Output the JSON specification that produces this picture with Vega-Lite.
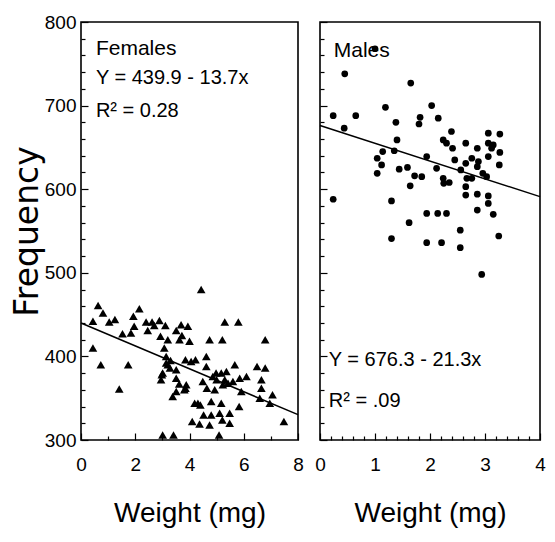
{
  "$schema": "https://vega.github.io/schema/vega-lite/v6.json",
  "background": "white",
  "padding": {"left": 10, "top": 12, "right": 10, "bottom": 5},
  "spacing": 22,
  "bounds": "flush",
  "config": {
    "font": "Liberation Sans",
    "view": {"stroke": "black", "strokeWidth": 1.6},
    "axis": {
      "domain": false,
      "grid": false,
      "tickColor": "black",
      "tickWidth": 1.2,
      "tickCount": 100,
      "labelColor": "black",
      "titleColor": "black",
      "labelFont": "Liberation Sans",
      "labelFontSize": 19,
      "titleFont": "Liberation Sans",
      "titleFontSize": 28,
      "titleFontWeight": "normal",
      "labelFlush": false,
      "labelOverlap": false,
      "labelBound": false
    }
  },
  "hconcat": [
    {
      "width": 217,
      "height": 418,
      "data": {"values": [
        {"w":0.63,"f":461},{"w":0.81,"f":452},{"w":0.44,"f":442},{"w":1.04,"f":441},{"w":1.25,"f":444},{"w":2.15,"f":457},{"w":1.93,"f":448},{"w":1.96,"f":436},{"w":1.84,"f":428},{"w":1.53,"f":427},
        {"w":0.44,"f":410},{"w":0.73,"f":390},{"w":1.74,"f":390},{"w":1.41,"f":361},{"w":2.4,"f":441},{"w":2.46,"f":431},{"w":2.62,"f":441},{"w":2.89,"f":443},{"w":2.7,"f":437},{"w":3.11,"f":437},
        {"w":2.93,"f":424},{"w":3.2,"f":420},{"w":3.07,"f":410},{"w":3.14,"f":400},{"w":3.2,"f":390},{"w":3.28,"f":386},{"w":3.01,"f":380},{"w":2.95,"f":372},{"w":3.51,"f":431},{"w":3.69,"f":438},
        {"w":3.94,"f":436},{"w":3.63,"f":420},{"w":4.0,"f":418},{"w":3.51,"f":384},{"w":3.51,"f":374},{"w":3.38,"f":352},{"w":3.51,"f":358},{"w":3.85,"f":362},{"w":3.85,"f":396},{"w":4.06,"f":394},
        {"w":4.22,"f":396},{"w":4.62,"f":400},{"w":4.62,"f":388},{"w":4.74,"f":420},{"w":5.21,"f":420},{"w":5.3,"f":441},{"w":5.8,"f":441},{"w":6.79,"f":420},{"w":5.67,"f":390},{"w":6.49,"f":388},
        {"w":6.79,"f":386},{"w":6.65,"f":372},{"w":6.65,"f":362},{"w":6.59,"f":350},{"w":7.06,"f":354},{"w":6.96,"f":344},{"w":7.48,"f":322},{"w":4.86,"f":376},{"w":4.98,"f":380},{"w":5.17,"f":380},
        {"w":5.36,"f":382},{"w":5.23,"f":366},{"w":5.42,"f":368},{"w":5.6,"f":370},{"w":5.85,"f":374},{"w":6.1,"f":376},{"w":5.91,"f":358},{"w":5.83,"f":340},{"w":4.49,"f":370},{"w":4.64,"f":362},
        {"w":4.93,"f":360},{"w":4.8,"f":346},{"w":5.17,"f":344},{"w":4.19,"f":344},{"w":4.31,"f":344},{"w":4.4,"f":342},{"w":4.52,"f":330},{"w":4.8,"f":330},{"w":5.11,"f":332},{"w":5.48,"f":332},
        {"w":5.48,"f":320},{"w":5.21,"f":324},{"w":4.74,"f":318},{"w":4.37,"f":319},{"w":4.1,"f":322},{"w":3.01,"f":306},{"w":3.41,"f":306},{"w":5.09,"f":306},{"w":3.81,"f":360},{"w":3.88,"f":366},
        {"w":3.14,"f":392},{"w":3.72,"f":425},{"w":4.43,"f":480},{"w":2.98,"f":378},{"w":3.3,"f":395},{"w":5.0,"f":372},{"w":5.3,"f":372},{"w":3.62,"f":367}
      ]},
      "layer": [
        {
          "mark": {"type": "point", "shape": "triangle-up", "filled": true, "color": "black", "opacity": 1, "size": 75},
          "encoding": {
            "x": {"field": "w", "type": "quantitative", "scale": {"domain": [0, 8], "nice": false, "zero": false},
              "axis": {"title": "Weight (mg)", "values": [0,1,2,3,4,5,6,7,8], "tickCount": 100,
                "labelOverlap": false, "labelFlush": false,
                "labelExpr": "datum.value % 2 === 0 ? format(datum.value, 'd') : ''",
                "tickSize": {"condition": {"test": "datum.value % 2 === 0", "value": -7}, "value": -4},
                "labelPadding": 22, "titlePadding": 22}},
            "y": {"field": "f", "type": "quantitative", "scale": {"domain": [300, 800], "nice": false, "zero": false},
              "axis": {"title": "Frequency", "values": [300,320,340,360,380,400,420,440,460,480,500,520,540,560,580,600,620,640,660,680,700,720,740,760,780,800], "tickCount": 100,
                "labelOverlap": false, "labelFlush": false,
                "labelExpr": "datum.value % 100 === 0 ? format(datum.value, 'd') : ''",
                "tickSize": {"condition": {"test": "datum.value % 100 === 0", "value": -7}, "value": -4},
                "titleFont": "DejaVu Sans", "titleFontSize": 33,
                "labelPadding": 12, "titlePadding": 0}}
          }
        },
        {
          "data": {"values": [{"w": 0, "f": 439.9}, {"w": 8, "f": 330.3}]},
          "mark": {"type": "line", "color": "black", "strokeWidth": 1.5},
          "encoding": {"x": {"field": "w", "type": "quantitative"}, "y": {"field": "f", "type": "quantitative"}}
        },
        {
          "data": {"values": [{"t": "Females"}]},
          "mark": {"type": "text", "align": "left", "baseline": "alphabetic", "fontSize": 21, "color": "black"},
          "encoding": {"x": {"datum": 0.55}, "y": {"datum": 760}, "text": {"field": "t"}}
        },
        {
          "data": {"values": [{"t": "Y = 439.9 - 13.7x"}]},
          "mark": {"type": "text", "align": "left", "baseline": "alphabetic", "fontSize": 20, "color": "black"},
          "encoding": {"x": {"datum": 0.55}, "y": {"datum": 726}, "text": {"field": "t"}}
        },
        {
          "data": {"values": [{"t": "R² = 0.28"}]},
          "mark": {"type": "text", "align": "left", "baseline": "alphabetic", "fontSize": 20, "color": "black"},
          "encoding": {"x": {"datum": 0.55}, "y": {"datum": 686}, "text": {"field": "t"}}
        }
      ]
    },
    {
      "width": 220,
      "height": 418,
      "data": {"values": [
        {"w":0.45,"f":738},{"w":0.24,"f":688},{"w":0.44,"f":673},{"w":0.65,"f":688},{"w":0.24,"f":588},{"w":1.0,"f":768},{"w":1.65,"f":727},{"w":1.19,"f":698},{"w":1.38,"f":680},{"w":1.4,"f":659},
        {"w":1.14,"f":645},{"w":1.04,"f":637},{"w":1.12,"f":629},{"w":1.04,"f":619},{"w":1.35,"f":646},{"w":1.44,"f":624},{"w":1.59,"f":626},{"w":1.72,"f":616},{"w":1.85,"f":615},{"w":1.64,"f":604},
        {"w":1.3,"f":586},{"w":1.62,"f":560},{"w":1.3,"f":541},{"w":1.82,"f":686},{"w":1.8,"f":678},{"w":2.03,"f":700},{"w":2.15,"f":685},{"w":1.94,"f":639},{"w":2.12,"f":625},{"w":2.24,"f":659},
        {"w":2.3,"f":655},{"w":2.39,"f":669},{"w":2.41,"f":649},{"w":2.45,"f":635},{"w":2.24,"f":613},{"w":2.25,"f":607},{"w":2.35,"f":608},{"w":1.94,"f":571},{"w":2.14,"f":571},{"w":2.3,"f":571},
        {"w":1.94,"f":536},{"w":2.21,"f":536},{"w":2.55,"f":551},{"w":2.55,"f":530},{"w":2.65,"f":655},{"w":2.56,"f":623},{"w":2.65,"f":631},{"w":2.67,"f":613},{"w":2.65,"f":603},{"w":2.65,"f":593},
        {"w":2.76,"f":637},{"w":2.76,"f":613},{"w":2.86,"f":649},{"w":2.88,"f":633},{"w":2.86,"f":627},{"w":2.86,"f":594},{"w":2.86,"f":575},{"w":2.96,"f":619},{"w":3.03,"f":615},{"w":3.06,"f":667},
        {"w":3.06,"f":655},{"w":3.06,"f":639},{"w":3.15,"f":653},{"w":3.12,"f":649},{"w":3.27,"f":666},{"w":3.27,"f":644},{"w":3.26,"f":629},{"w":3.06,"f":592},{"w":3.06,"f":583},{"w":3.15,"f":570},
        {"w":3.25,"f":544},{"w":2.94,"f":498}
      ]},
      "layer": [
        {
          "mark": {"type": "circle", "color": "black", "opacity": 1, "size": 45},
          "encoding": {
            "x": {"field": "w", "type": "quantitative", "scale": {"domain": [0, 4], "nice": false, "zero": false},
              "axis": {"title": "Weight (mg)", "values": [0,0.2,0.4,0.6,0.8,1,1.2,1.4,1.6,1.8,2,2.2,2.4,2.6,2.8,3,3.2,3.4,3.6,3.8,4], "tickCount": 100,
                "labelOverlap": false, "labelFlush": false,
                "labelExpr": "datum.value % 1 === 0 ? format(datum.value, 'd') : ''",
                "tickSize": {"condition": {"test": "datum.value % 1 === 0", "value": -7}, "value": -4},
                "labelPadding": 22, "titlePadding": 22}},
            "y": {"field": "f", "type": "quantitative", "scale": {"domain": [300, 800], "nice": false, "zero": false},
              "axis": {"title": null, "labels": false, "tickCount": 100, "values": [300,320,340,360,380,400,420,440,460,480,500,520,540,560,580,600,620,640,660,680,700,720,740,760,780,800],
                "tickSize": {"condition": {"test": "datum.value % 100 === 0", "value": -7}, "value": -4}}}
          }
        },
        {
          "data": {"values": [{"w": 0, "f": 676.3}, {"w": 4, "f": 591.1}]},
          "mark": {"type": "line", "color": "black", "strokeWidth": 1.5},
          "encoding": {"x": {"field": "w", "type": "quantitative"}, "y": {"field": "f", "type": "quantitative"}}
        },
        {
          "data": {"values": [{"t": "Males"}]},
          "mark": {"type": "text", "align": "left", "baseline": "alphabetic", "fontSize": 21, "color": "black"},
          "encoding": {"x": {"datum": 0.25}, "y": {"datum": 758}, "text": {"field": "t"}}
        },
        {
          "data": {"values": [{"t": "Y = 676.3 - 21.3x"}]},
          "mark": {"type": "text", "align": "left", "baseline": "alphabetic", "fontSize": 20, "color": "black"},
          "encoding": {"x": {"datum": 0.16}, "y": {"datum": 389}, "text": {"field": "t"}}
        },
        {
          "data": {"values": [{"t": "R² = .09"}]},
          "mark": {"type": "text", "align": "left", "baseline": "alphabetic", "fontSize": 20, "color": "black"},
          "encoding": {"x": {"datum": 0.16}, "y": {"datum": 340}, "text": {"field": "t"}}
        }
      ]
    }
  ]
}
